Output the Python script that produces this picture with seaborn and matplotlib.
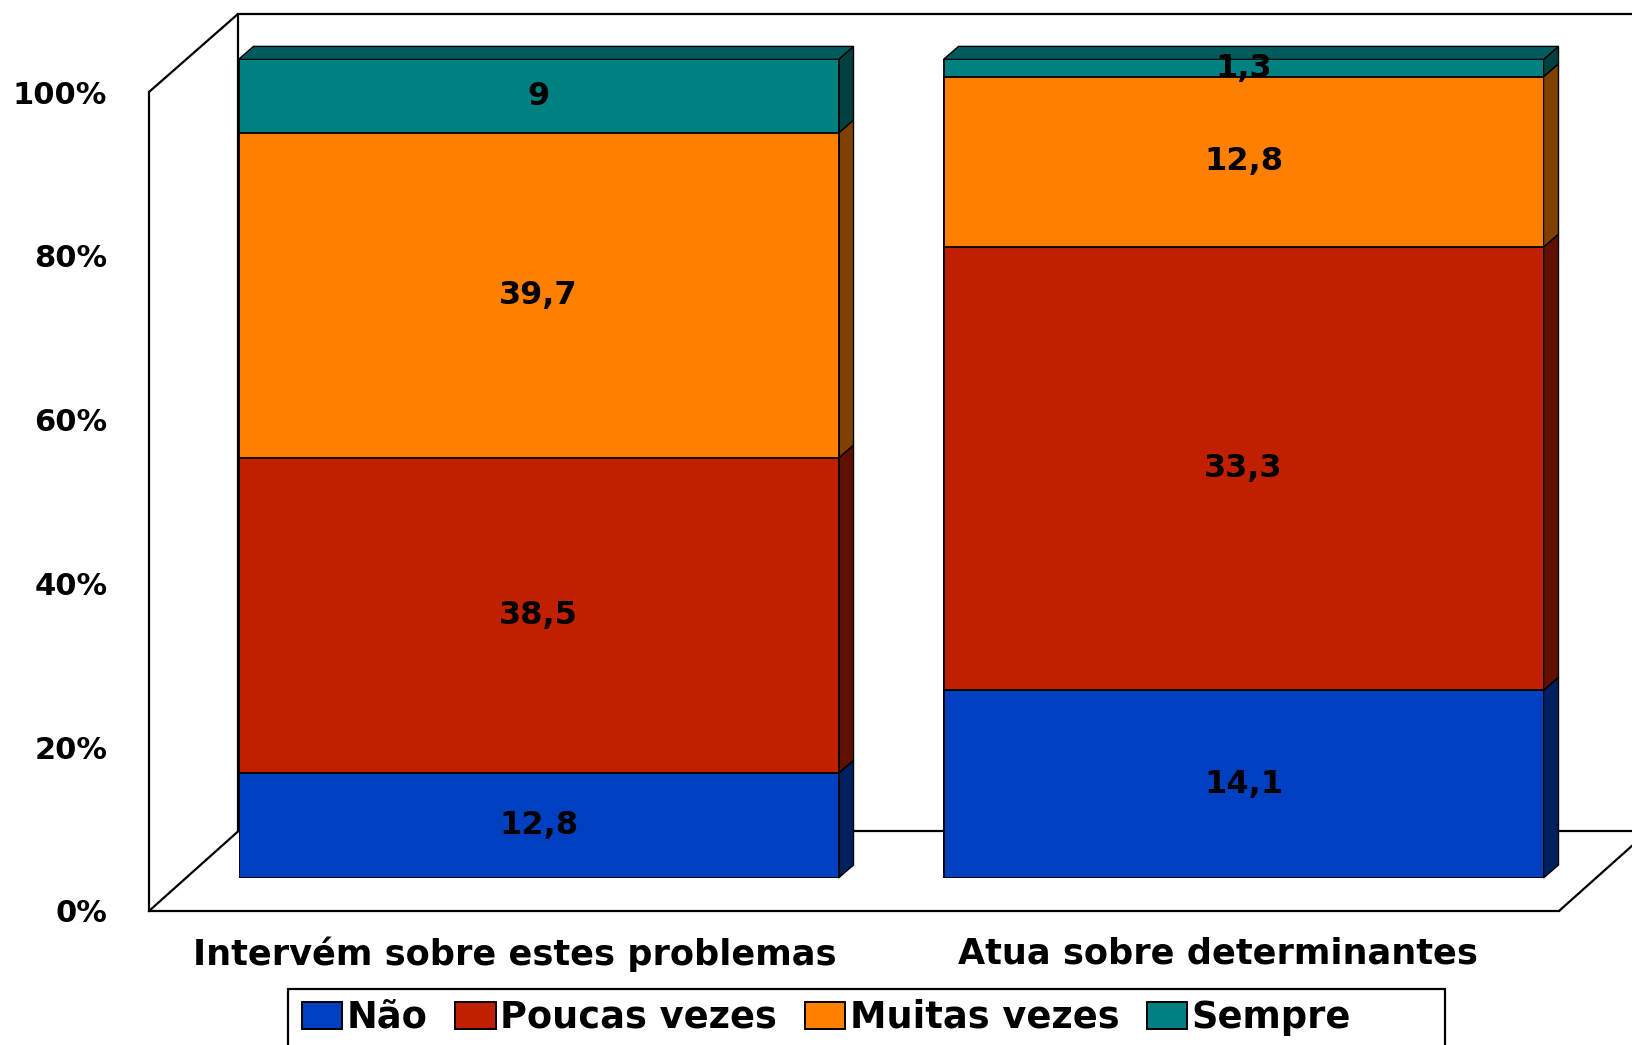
import numpy as np
import pandas as pd
import matplotlib
matplotlib.use("Agg")
import matplotlib.pyplot as plt
import seaborn as sns
from matplotlib.patches import Polygon, Patch, Rectangle
from matplotlib.colors import to_rgb

# ---------------- data ----------------
categorias = ["Intervém sobre estes problemas", "Atua sobre determinantes"]
respostas = ["Não", "Poucas vezes", "Muitas vezes", "Sempre"]
nao = [12.8, 14.1]
poucas_vezes = [38.5, 33.3]
muitas_vezes = [39.7, 12.8]
sempre = [9.0, 1.3]
yticks_vals = [0, 20, 40, 60, 80, 100]
yticks_labels = ["0%", "20%", "40%", "60%", "80%", "100%"]
cores = ["#0040C0", "#C02000", "#FF8000", "#008080"]

series = [nao, poucas_vezes, muitas_vezes, sempre]

# ---------------- figure ----------------
sns.set_style("white")
plt.rcParams["font.family"] = ["DejaVu Sans"]
plt.rcParams["font.weight"] = "bold"
for k in ["text.color", "xtick.color", "ytick.color", "axes.labelcolor"]:
    plt.rcParams[k] = "black"

W, H = 1633, 1045
fig = plt.figure(figsize=(W / 100, H / 100), dpi=100)
fig.patch.set_facecolor("white")


def fr(x0, y0, x1, y1):
    return [x0 / W, 1 - y1 / H, (x1 - x0) / W, (y1 - y0) / H]


# decorative 3-D walls (background)
deco = fig.add_axes([0, 0, 1, 1], zorder=0)
deco.set_xlim(0, W)
deco.set_ylim(H, 0)
deco.axis("off")
lw_frame = 1.6
wall_lines = [
    ((238.5, 13.5), (W + 5, 13.5)),
    ((238.5, 13.5), (238.5, 831)),
    ((238.5, 831), (W + 5, 831)),
    ((149, 92), (238.5, 13.5)),
    ((149, 911), (238.5, 831)),
    ((1559, 911), (1648.6, 831)),
]
for (xa, ya), (xb, yb) in wall_lines:
    deco.plot([xa, xb], [ya, yb], color="black", lw=lw_frame, solid_capstyle="butt")
# legend box (extends past the bottom edge, as in the original)
deco.add_patch(Rectangle((288.5, 989), 1444.6 - 288.5, 80, facecolor="white",
                         edgecolor="black", linewidth=lw_frame, clip_on=False))

# front axis (ticks / category labels)
ax2 = fig.add_axes(fr(149, 92, 1559, 911), zorder=1)
ax2.set_facecolor("none")
ax2.set_ylim(0, 100)
ax2.set_xlim(-0.5206, 1.485)
ax2.set_yticks(yticks_vals)
ax2.set_yticklabels(yticks_labels, fontsize=22, fontweight="bold", color="black")
ax2.set_xticks([0, 1])
ax2.set_xticklabels(categorias, fontsize=25.3, fontweight="bold", color="black")
ax2.tick_params(axis="y", length=0, pad=30)
ax2.tick_params(axis="x", length=0, pad=18.5)
for s in ["top", "right"]:
    ax2.spines[s].set_visible(False)
for s in ["left", "bottom"]:
    ax2.spines[s].set_color("black")
    ax2.spines[s].set_linewidth(lw_frame)

# bars
bar_w = 600 / 705
ax = fig.add_axes(fr(238.5, 59.4, 1543.5, 878), zorder=2)
ax.set_facecolor("none")

pct = []
tot = np.sum(series, axis=0)
for s in series:
    pct.append(np.array(s) / tot * 100)
cum = np.cumsum(pct, axis=0)

layer_patches = {}
for j in reversed(range(len(respostas))):
    df = pd.DataFrame({"categoria": categorias, "acumulado": cum[j]})
    n0 = len(ax.patches)
    sns.barplot(data=df, x="categoria", y="acumulado", color=cores[j],
                saturation=1, width=bar_w, edgecolor="black", linewidth=1.3,
                ax=ax, zorder=3)
    layer_patches[j] = ax.patches[n0:]

half = bar_w / 2
ax.set_xlim(-half, 1 + half)
ax.set_ylim(0, 100)
ax.axis("off")

# depth of the 3-D effect in data units
px_per_x = (1543.5 - 238.5) / (1 + bar_w)
px_per_y = (878 - 59.4) / 100
ddx = 15 / px_per_x
ddy = 13 / px_per_y


def shade(c, f):
    r, g, b = to_rgb(c)
    return (r * f, g * f, b * f)


for j in range(len(respostas)):
    for i, p in enumerate(layer_patches[j]):
        xr = p.get_x() + p.get_width()
        xl = p.get_x()
        top = cum[j][i]
        bot = cum[j - 1][i] if j > 0 else 0.0
        side = Polygon([(xr, bot), (xr + ddx, bot + ddy), (xr + ddx, top + ddy), (xr, top)],
                       closed=True, facecolor=shade(cores[j], 0.5), edgecolor="black",
                       linewidth=1.0, clip_on=False, zorder=2)
        ax.add_patch(side)
        if j == len(respostas) - 1:
            topf = Polygon([(xl, top), (xl + ddx, top + ddy), (xr + ddx, top + ddy), (xr, top)],
                           closed=True, facecolor=shade(cores[j], 0.72), edgecolor="black",
                           linewidth=1.0, clip_on=False, zorder=2)
            ax.add_patch(topf)
        mid = (top + bot) / 2
        lab = f"{series[j][i]:g}".replace(".", ",")
        ax.text(i, mid, lab, ha="center", va="center", fontsize=23,
                fontweight="bold", color="black", zorder=5)

# legend
handles = [Patch(facecolor=c, edgecolor="black", linewidth=1.4, label=r)
           for c, r in zip(cores, respostas)]
leg = fig.legend(handles=handles, loc="center left",
                 bbox_to_anchor=(302 / W, 1 - 1017.5 / H), ncol=4,
                 frameon=False, borderaxespad=0, borderpad=0,
                 prop={"weight": "bold", "size": 26.5},
                 handlelength=1.1, handleheight=0.75, handletextpad=0.12,
                 columnspacing=0.75)
for t in leg.get_texts():
    t.set_color("black")

fig.savefig("out.png", dpi=100, facecolor="white")
